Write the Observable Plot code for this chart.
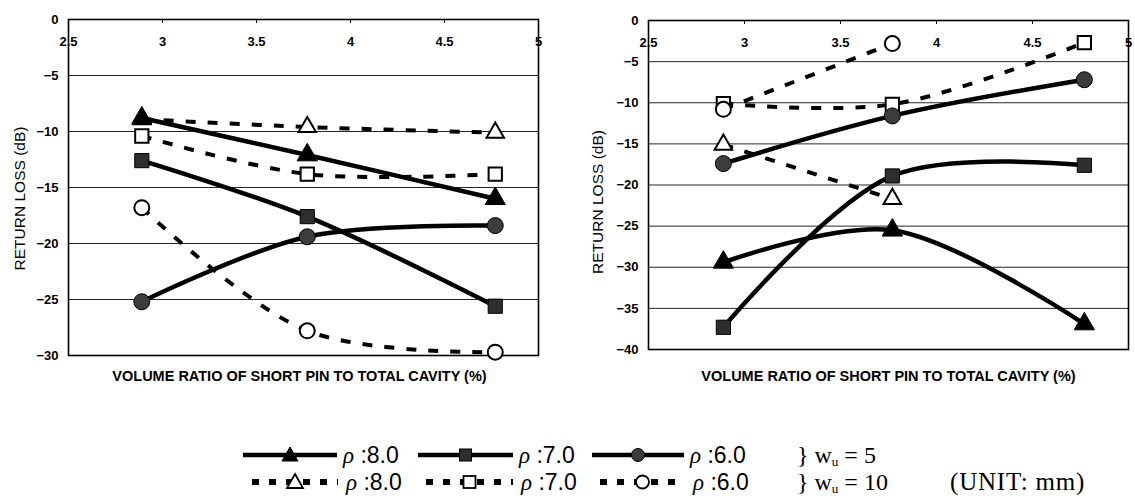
<!DOCTYPE html>
<html><head><meta charset="utf-8">
<script src="https://cdn.jsdelivr.net/npm/d3@7"></script>
<script src="https://cdn.jsdelivr.net/npm/@observablehq/plot@0.6"></script>
<style>
html,body{margin:0;padding:0;background:#fff;overflow:hidden;width:1135px;height:496px}
#left{position:absolute;left:0;top:0;width:575px}
#right{position:absolute;left:575px;top:0;width:560px}
#left svg,#right svg{max-width:none !important}
.it{position:absolute;white-space:nowrap;color:#000;line-height:24px;height:24px}
.lab{font-family:"Liberation Sans",Arial,sans-serif;font-size:23px}
.lab i{font-family:"Liberation Serif",serif;font-style:italic}
.ser{font-family:"Liberation Serif","Times New Roman",serif;font-size:24px}
.ser .sb{font-size:13px;position:relative;top:3px}
</style></head><body>
<div id="left"></div><div id="right"></div>
<div id="legend"></div>
<script>
// ---- data ----
const xRatio = [2.89, 3.77, 4.77];
const xTicks = [2.5, 3, 3.5, 4, 4.5, 5];
const leftYTicks = [0, -5, -10, -15, -20, -25, -30];
const rightYTicks = [0, -5, -10, -15, -20, -25, -30, -35, -40];
const seriesNames = ["ρ:8.0 wu=5", "ρ:7.0 wu=5", "ρ:6.0 wu=5", "ρ:8.0 wu=10", "ρ:7.0 wu=10", "ρ:6.0 wu=10"];
const legendLabels = ["ρ :8.0", "ρ :7.0", "ρ :6.0"];
// left chart
const leftRho8W5 = [-8.8, -12.1, -16.0];
const leftRho7W5 = [-12.6, -17.6, -25.6];
const leftRho6W5 = [-25.2, -19.4, -18.4];
const leftRho8W10 = [-8.9, -9.6, -10.1];
const leftRho7W10 = [-10.4, -13.8, -13.8];
const leftRho6W10 = [-16.8, -27.8, -29.7];
// right chart
const rightRho8W5 = [-29.4, -25.5, -36.9];
const rightRho7W5 = [-37.3, -18.9, -17.6];
const rightRho6W5 = [-17.4, -11.6, -7.2];
const rightRho8W10 = [-15.1, -21.7];
const rightRho7W10 = [-10.1, -10.2, -2.7];
const rightRho6W10 = [-10.8, -2.8];

const xTitle = "VOLUME RATIO OF SHORT PIN TO TOTAL CAVITY (%)";
const yTitle = "RETURN LOSS (dB)";

const styles = {
  "ρ:8.0 wu=5":  {dash: null, symbol: "triangle", fill: "#000", r: 7.5},
  "ρ:7.0 wu=5":  {dash: null, symbol: "square", fill: "#2e2e2e", r: 8},
  "ρ:6.0 wu=5":  {dash: null, symbol: "circle", fill: "#3c3c3c", r: 8},
  "ρ:8.0 wu=10": {dash: "10,12", symbol: "triangle", fill: "#fff", r: 6.5},
  "ρ:7.0 wu=10": {dash: "10,12", symbol: "square", fill: "#fff", r: 7.5},
  "ρ:6.0 wu=10": {dash: "10,12", symbol: "circle", fill: "#fff", r: 7.5}
};

function rows(name, ys) { return ys.map((y, i) => ({x: xRatio[i], y, s: name})); }

function makeChart({sets, yTicks, width, height, ml, mr, mt, mb, labelDx, labelDy, titleDx, titleDy}) {
  const innerH = height - mt - mb;
  const marks = [
    Plot.gridY(yTicks.slice(1, -1), {stroke: "#000", strokeOpacity: 0.85, strokeWidth: 1}),
    Plot.frame({stroke: "#000", strokeWidth: 1.6}),
    Plot.axisY({ticks: yTicks, tickSize: 0, tickPadding: 10, label: null, fill: "#000", fontSize: 13, fontWeight: "bold"}),
    Plot.axisX({anchor: "bottom", ticks: xTicks, tickSize: 4, tickPadding: 13, dy: -innerH, tickFormat: d => String(d), label: null, fill: "#000", fontSize: 13, fontWeight: "bold"}),
    Plot.text([xTitle], {text: d => d, frameAnchor: "bottom", dy: titleDy, dx: titleDx, fontSize: 14.5, fontWeight: "bold", fill: "#000"}),
    Plot.text([yTitle], {text: d => d, frameAnchor: "left", textAnchor: "middle", rotate: -90, dx: labelDx, dy: labelDy, fontSize: 15.5, fontWeight: "normal", fill: "#000"})
  ];
  const order = [3, 4, 5, 0, 1, 2];
  for (const k of order) {
    const name = seriesNames[k];
    const st = styles[name];
    const data = rows(name, sets[k]);
    marks.push(Plot.line(data, {x: "x", y: "y", curve: "catmull-rom", stroke: "#000", clip: true,
      strokeWidth: st.dash ? 4 : 4.5, strokeDasharray: st.dash || undefined, strokeLinecap: "butt"}));
  }
  for (const k of order) {
    const name = seriesNames[k];
    const st = styles[name];
    const data = rows(name, sets[k]);
    marks.push(Plot.dot(data, {x: "x", y: "y", symbol: st.symbol, r: st.r, fill: st.fill,
      stroke: "#000", strokeWidth: st.fill === "#fff" ? 2 : 1}));
  }
  return Plot.plot({
    width, height, marginLeft: ml, marginRight: mr, marginTop: mt, marginBottom: mb,
    style: {fontFamily: "'Liberation Sans', Arial, sans-serif", fontSize: "13px", background: "#fff", color: "#000", overflow: "visible", maxWidth: "none"},
    x: {domain: [2.5, 5]},
    y: {domain: [yTicks[yTicks.length - 1], 0]},
    marks
  });
}

document.getElementById("left").append(makeChart({
  sets: [leftRho8W5, leftRho7W5, leftRho6W5, leftRho8W10, leftRho7W10, leftRho6W10],
  yTicks: leftYTicks, width: 575, height: 400, ml: 68, mr: 37, mt: 19, mb: 45,
  labelDx: -48, labelDy: 11, titleDx: -4, titleDy: 25
}));
document.getElementById("right").append(makeChart({
  sets: [rightRho8W5, rightRho7W5, rightRho6W5, rightRho8W10, rightRho7W10, rightRho6W10],
  yTicks: rightYTicks, width: 560, height: 400, ml: 73, mr: 7, mt: 20, mb: 51,
  labelDx: -50, labelDy: 17, titleDx: 0, titleDy: 31
}));

// ---- legend ----
function swatch(symbol, dashed, fill, w) {
  const h = 24, cx = w / 2, cy = 12;
  const sw = dashed ? 1.8 : 1;
  let m = "";
  if (symbol === "triangle") m = `<path d="M${cx},${cy-8} L${cx+8},${cy+6} L${cx-8},${cy+6} Z" fill="${fill}" stroke="#000" stroke-width="${sw}"/>`;
  if (symbol === "square") m = `<rect x="${cx-6}" y="${cy-6}" width="12" height="12" fill="${fill}" stroke="#000" stroke-width="${sw}"/>`;
  if (symbol === "circle") m = `<circle cx="${cx}" cy="${cy}" r="6.5" fill="${fill}" stroke="#000" stroke-width="${sw}"/>`;
  const line = dashed
    ? `<line x1="0" x2="${w}" y1="${cy}" y2="${cy}" stroke="#000" stroke-width="6" stroke-dasharray="7,10"/>`
    : `<line x1="0" x2="${w}" y1="${cy}" y2="${cy}" stroke="#000" stroke-width="4.5"/>`;
  return `<svg width="${w}" height="${h}" style="display:block">${line}${m}</svg>`;
}
const syms = ["triangle", "square", "circle"];
const fills = ["#000", "#2e2e2e", "#3c3c3c"];
const row1Sw = [243, 418, 592], row1Lab = [343, 519, 690];
const row2Sw = [252, 426, 600], row2Lab = [346, 521, 693];
let html = "";
const top1 = 443, top2 = 470;
legendLabels.forEach((lab, i) => {
  const t = `<i>ρ</i>${lab.slice(1)}`;
  html += `<div class="it" style="left:${row1Sw[i]}px;top:${top1}px">${swatch(syms[i], false, fills[i], row1Lab[i] - row1Sw[i] - 6)}</div>`;
  html += `<div class="it lab" style="left:${row1Lab[i]}px;top:${top1}px">${t}</div>`;
  html += `<div class="it" style="left:${row2Sw[i]}px;top:${top2}px">${swatch(syms[i], true, "#fff", row2Lab[i] - row2Sw[i] - 8)}</div>`;
  html += `<div class="it lab" style="left:${row2Lab[i]}px;top:${top2}px">${t}</div>`;
});
html += `<div class="it ser" style="left:797px;top:${top1}px">}&nbsp;w<span class="sb">u</span>&nbsp;=&nbsp;5</div>`;
html += `<div class="it ser" style="left:797px;top:${top2}px">}&nbsp;w<span class="sb">u</span>&nbsp;=&nbsp;10</div>`;
html += `<div class="it ser" style="left:950px;top:${top2}px;font-size:25px;letter-spacing:0.8px">(UNIT: mm)</div>`;
document.getElementById("legend").innerHTML = html;
</script>
</body></html>
